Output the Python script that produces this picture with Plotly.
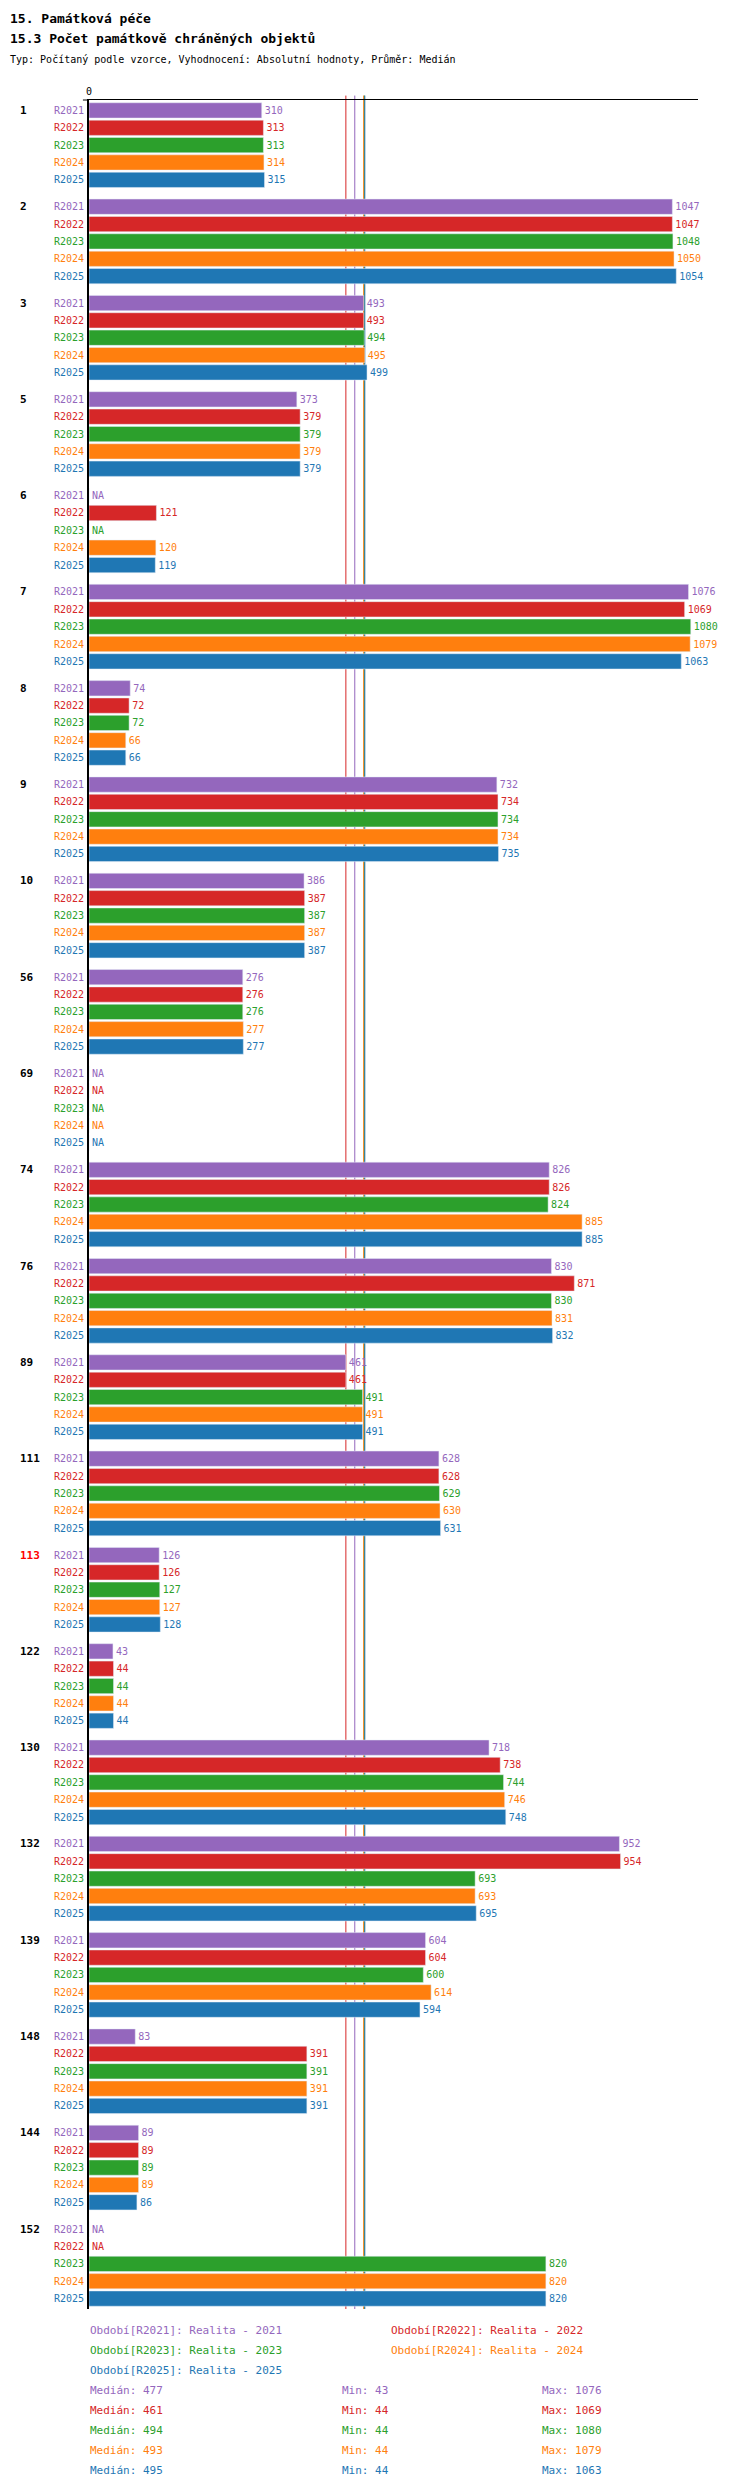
import plotly.graph_objects as go

# Data
groups = ["1", "2", "3", "5", "6", "7", "8", "9", "10", "56", "69", "74", "76", "89",
          "111", "113", "122", "130", "132", "139", "148", "144", "152"]
periods = ["R2021", "R2022", "R2023", "R2024", "R2025"]
colors = ["#9467bd", "#d62728", "#2ca02c", "#ff7f0e", "#1f77b4"]
N = None
values = {
    "R2021": [310, 1047, 493, 373, N, 1076, 74, 732, 386, 276, N, 826, 830, 461, 628, 126, 43, 718, 952, 604, 83, 89, N],
    "R2022": [313, 1047, 493, 379, 121, 1069, 72, 734, 387, 276, N, 826, 871, 461, 628, 126, 44, 738, 954, 604, 391, 89, N],
    "R2023": [313, 1048, 494, 379, N, 1080, 72, 734, 387, 276, N, 824, 830, 491, 629, 127, 44, 744, 693, 600, 391, 89, 820],
    "R2024": [314, 1050, 495, 379, 120, 1079, 66, 734, 387, 277, N, 885, 831, 491, 630, 127, 44, 746, 693, 614, 391, 89, 820],
    "R2025": [315, 1054, 499, 379, 119, 1063, 66, 735, 387, 277, N, 885, 832, 491, 631, 128, 44, 748, 695, 594, 391, 86, 820],
}
medians = [477, 461, 494, 493, 495]
mins = [43, 44, 44, 44, 44]
maxs = [1076, 1069, 1080, 1079, 1063]
highlight = "113"

FONT = "DejaVu Sans Mono"
step = 5.55

fig = go.Figure()
annotations = []
for i, (p, c) in enumerate(zip(periods, colors)):
    ys = [g * step + i for g in range(len(groups))]
    vals = values[p]
    fig.add_trace(go.Bar(
        orientation="h", y=ys, x=[v if v is not None else 0 for v in vals],
        marker_color=c, width=0.88,
        text=[str(v) if v is not None else "NA" for v in vals],
        textposition="outside", outsidetextfont=dict(color=c, size=10, family=FONT),
        cliponaxis=False, showlegend=False, hoverinfo="skip",
    ))
    for y in ys:
        annotations.append(dict(xref="paper", yref="y", x=-0.005, y=y, text=p,
                                showarrow=False, xanchor="right",
                                font=dict(color=c, size=10, family=FONT)))

for g, name in enumerate(groups):
    annotations.append(dict(xref="paper", yref="y", x=-0.117, y=g * step, text=f"<b>{name}</b>",
                            showarrow=False, xanchor="left",
                            font=dict(color="#ff0000" if name == highlight else "#000", size=11, family=FONT)))

# median lines drawn behind the bars
shapes = [dict(type="line", xref="x", yref="paper", x0=m, x1=m, y0=0, y1=1.002, layer="below",
               line=dict(color=c, width=1)) for m, c in zip(medians, colors)]
shapes.append(dict(type="line", xref="paper", yref="paper", x0=-0.01, x1=0, y0=1, y1=1,
                   line=dict(color="#000", width=1)))

def ann(x, y, t, c):
    annotations.append(dict(xref="paper", yref="paper", x=x, y=y, text=t, showarrow=False,
                            xanchor="left", yanchor="middle", font=dict(color=c, size=11, family=FONT)))

plot_h = 2301 - 92
def py(pix):
    return (2301 - pix) / plot_h

def px(pix):
    return (pix - 81) / 609

leg_pos = [(80, 2322), (381, 2322), (80, 2342), (381, 2342), (80, 2362)]
for (x, y), p, c in zip(leg_pos, periods, colors):
    ann(px(x), py(y), f"Období[{p}]: Realita - {p[1:]}", c)
for k, c in enumerate(colors):
    y = 2382 + 20 * k
    ann(px(80), py(y), f"Medián: {medians[k]}", c)
    ann(px(332), py(y), f"Min: {mins[k]}", c)
    ann(px(532), py(y), f"Max: {maxs[k]}", c)

# titles
for y, t, s in [(10, "<b>15. Památková péče</b>", 13), (31, "<b>15.3 Počet památkově chráněných objektů</b>", 13),
                (52, "Typ: Počítaný podle vzorce, Vyhodnocení: Absolutní hodnoty, Průměr: Medián", 10)]:
    annotations.append(dict(xref="paper", yref="paper", x=px(0), y=py(y), text=t, showarrow=False,
                            xanchor="left", yanchor="middle", font=dict(color="#000", size=s, family=FONT)))

fig.update_layout(
    width=750, height=2480,
    margin=dict(l=81, r=60, t=92, b=179),
    plot_bgcolor="white", paper_bgcolor="white",
    barmode="overlay",
    font=dict(family=FONT, size=10, color="#000"),
    xaxis=dict(range=[0, 1093], side="top", showgrid=False, zeroline=False,
               showline=True, linecolor="#000", linewidth=1,
               tickvals=[0], ticktext=["0"], ticks="", fixedrange=True),
    yaxis=dict(range=[(len(groups) - 1) * step + 4.6, -0.6], showgrid=False, zeroline=False,
               showticklabels=False, showline=True, linecolor="#000", linewidth=2),
    annotations=annotations, shapes=shapes,
)

fig.write_html("out.html")
